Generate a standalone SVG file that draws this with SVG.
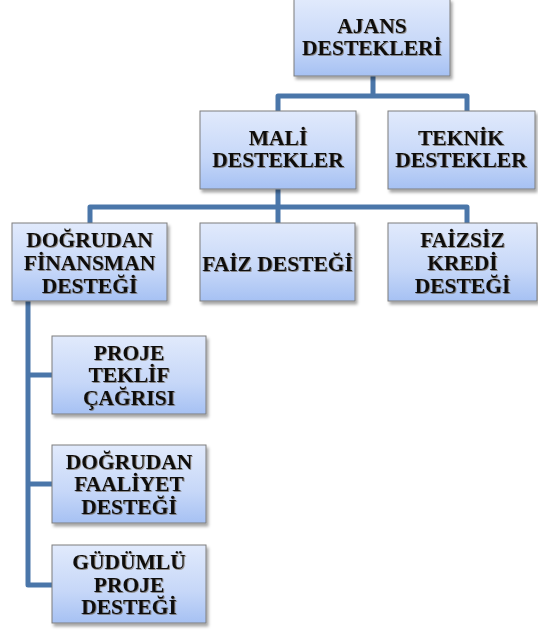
<svg xmlns="http://www.w3.org/2000/svg" width="538" height="631" viewBox="0 0 538 631">
<style>
.box{fill:url(#g);stroke:#7d7d7d;stroke-width:1;filter:url(#sh)}
.t{font-family:"Liberation Serif","Times New Roman",serif;font-weight:bold;font-size:21.5px;fill:#101010;text-anchor:middle;filter:url(#ts)}
.c{fill:none;stroke:#4a76a9;stroke-width:5;stroke-linejoin:round}
</style>
<defs>
<linearGradient id="g" x1="0" y1="0" x2="0" y2="1">
<stop offset="0" stop-color="#e1eafc"/>
<stop offset="0.6" stop-color="#c6d7f8"/>
<stop offset="1" stop-color="#a6c1f3"/>
</linearGradient>
<filter id="sh" x="-10%" y="-10%" width="125%" height="130%">
<feDropShadow dx="2" dy="3" stdDeviation="1.5" flood-color="#000" flood-opacity="0.35"/>
</filter>
<filter id="ts" x="-5%" y="-20%" width="110%" height="150%">
<feDropShadow dx="0.8" dy="0.8" stdDeviation="0.6" flood-color="#5a4a30" flood-opacity="0.7"/>
</filter>
</defs>
<g id="connectors">
<path class="c" d="M373,76 V96 M278,111 V96 H467 V111"/>
<path class="c" d="M278,189 V207 M90,223 V207 H467 V223 M278,207 V223"/>
<path class="c" d="M28,301 V585 H52 M28,375 H52 M28,484 H52"/>
</g>
<g id="ajans">
<rect class="box" x="294" y="-1" width="156" height="77"/>
<text class="t" x="372" y="33">AJANS</text>
<text class="t" x="372" y="55">DESTEKLERİ</text>
</g>
<g id="mali">
<rect class="box" x="200" y="111" width="156" height="78"/>
<text class="t" x="278" y="145">MALİ</text>
<text class="t" x="278" y="167">DESTEKLER</text>
</g>
<g id="teknik">
<rect class="box" x="388" y="111" width="147" height="78"/>
<text class="t" x="461" y="145">TEKNİK</text>
<text class="t" x="461" y="167">DESTEKLER</text>
</g>
<g id="dogrudan-finansman">
<rect class="box" x="12" y="223" width="155" height="78"/>
<text class="t" x="89.5" y="247">DOĞRUDAN</text>
<text class="t" x="89.5" y="270">FİNANSMAN</text>
<text class="t" x="89.5" y="293">DESTEĞİ</text>
</g>
<g id="faiz">
<rect class="box" x="200" y="223" width="155" height="78"/>
<text class="t" x="277.5" y="271">FAİZ DESTEĞİ</text>
</g>
<g id="faizsiz">
<rect class="box" x="388" y="223" width="149" height="78"/>
<text class="t" x="462.5" y="247">FAİZSİZ</text>
<text class="t" x="462.5" y="270">KREDİ</text>
<text class="t" x="462.5" y="293">DESTEĞİ</text>
</g>
<g id="proje-teklif">
<rect class="box" x="52" y="336" width="154" height="78"/>
<text class="t" x="129" y="360">PROJE</text>
<text class="t" x="129" y="382">TEKLİF</text>
<text class="t" x="129" y="405">ÇAĞRISI</text>
</g>
<g id="dogrudan-faaliyet">
<rect class="box" x="52" y="445" width="154" height="78"/>
<text class="t" x="129" y="469">DOĞRUDAN</text>
<text class="t" x="129" y="491">FAALİYET</text>
<text class="t" x="129" y="514">DESTEĞİ</text>
</g>
<g id="gudumlu">
<rect class="box" x="52" y="545" width="154" height="78"/>
<text class="t" x="129" y="569">GÜDÜMLÜ</text>
<text class="t" x="129" y="592">PROJE</text>
<text class="t" x="129" y="614">DESTEĞİ</text>
</g>
</svg>
